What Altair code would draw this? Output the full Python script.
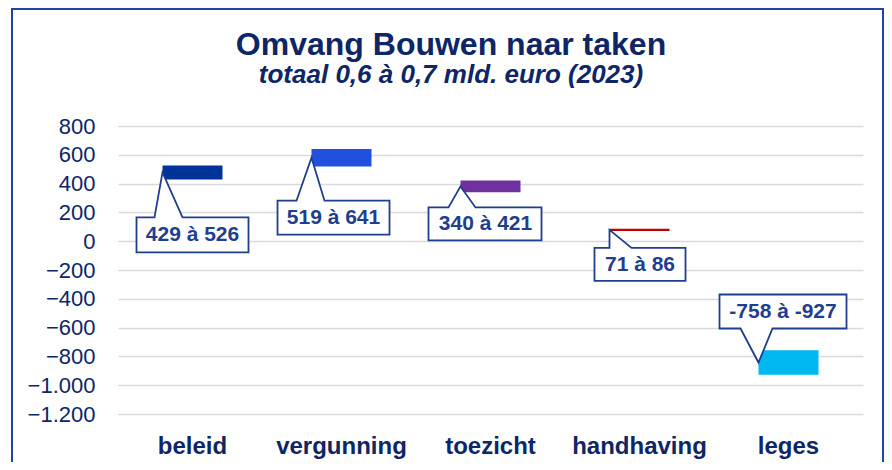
import altair as alt
import pandas as pd

# ---- data ----
tasks = ["beleid", "vergunning", "toezicht", "handhaving", "leges"]
low = [429, 519, 340, 71, -758]
high = [526, 641, 421, 86, -927]
y_ticks = [-1200, -1000, -800, -600, -400, -200, 0, 200, 400, 600, 800]
title_text = "Omvang Bouwen naar taken"
subtitle_text = "totaal 0,6 à 0,7 mld. euro (2023)"

# ---- styles ----
bar_colors = ["#003399", "#2150E0", "#7030A0", "#C00000", "#00B8F0"]
NAVY = "#0E2566"
CALLOUT = "#1F3E8E"
FRAME = "#1F44A3"
GRID = "#D9D9D9"
FONT = "Liberation Sans"
BAR_W = 60

# callout balloon shapes (pixel units relative to the tip at the bar's left edge)
callout_shapes = {
    "beleid": "M0,0L20,45L86,45L86,80L-26,80L-26,45L-8,45Z",
    "vergunning": "M0,0L13,43L78,43L78,77L-34,77L-34,43L-15,43Z",
    "toezicht": "M0,0L15,21L81,21L81,54L-32,54L-32,21L-12,21Z",
    "handhaving": "M0,0L22,18L76,18L76,51L-15,51L-15,18L0,18Z",
    "leges": "M0,0L14,-34L88,-34L88,-68L-39,-68L-39,-34L-18,-34Z",
}
callout_text_offsets = {
    "beleid": (30, 63),
    "vergunning": (22, 60),
    "toezicht": (25, 38),
    "handhaving": (30.5, 35),
    "leges": (24.5, -51),
}

df = pd.DataFrame({"taak": tasks, "laag": low, "hoog": high})
df["label"] = [f"{a} à {b}" for a, b in zip(low, high)]
df["midden"] = (df["laag"] + df["hoog"]) / 2

x_enc = alt.X(
    "taak:N",
    sort=tasks,
    scale=alt.Scale(domain=tasks, paddingInner=0, paddingOuter=0),
    axis=alt.Axis(
        title=None, labelAngle=0, labelFontSize=24, labelFontWeight="bold",
        labelColor=NAVY, labelFont=FONT, domain=False, ticks=False,
        labelPadding=20, grid=False,
    ),
)

y_scale = alt.Scale(domain=[-1200, 800], nice=False, zero=False)
y_axis = alt.Axis(
    values=y_ticks, title=None, labelFontSize=22, labelColor=NAVY, labelFont=FONT,
    domain=False, ticks=False, labelPadding=23, grid=True, gridColor=GRID,
    gridWidth=1.5,
    labelExpr="replace(format(datum.value, ','), ',', '.')",
)


def y_enc(field):
    return alt.Y(field, scale=y_scale, axis=y_axis)


base = alt.Chart(df)

bars = base.mark_bar(width=BAR_W).encode(
    x=x_enc,
    y=y_enc("laag:Q"),
    y2="hoog:Q",
    color=alt.Color("taak:N", scale=alt.Scale(domain=tasks, range=bar_colors), legend=None),
)

layers = [bars]
for t in tasks:
    tx, ty = callout_text_offsets[t]
    pt = base.transform_filter(alt.datum.taak == t).mark_point(
        shape=callout_shapes[t], size=4, filled=True, fill="white", stroke=CALLOUT,
        strokeWidth=1.8, opacity=1, fillOpacity=1, strokeOpacity=1, xOffset=-BAR_W / 2,
    ).encode(x=x_enc, y=y_enc("midden:Q"))
    tt = base.transform_filter(alt.datum.taak == t).mark_text(
        dx=tx - BAR_W / 2, dy=ty, fontSize=21, fontWeight="bold", color=CALLOUT,
        font=FONT, align="center", baseline="middle",
    ).encode(x=x_enc, y=y_enc("midden:Q"), text="label:N")
    layers += [pt, tt]

one = alt.Chart(pd.DataFrame({"k": [0]}))
frame = one.mark_rect(filled=False, stroke=FRAME, strokeWidth=2).encode(
    x=alt.value(-106), x2=alt.value(765), y=alt.value(-117), y2=alt.value(380)
)
title = one.mark_text(
    text=title_text, fontSize=32, fontWeight="bold", color=NAVY, font=FONT,
    align="center", baseline="alphabetic",
).encode(x=alt.value(333), y=alt.value(-71))
subtitle = one.mark_text(
    text=subtitle_text, fontSize=26, fontWeight="bold", fontStyle="italic",
    color=NAVY, font=FONT, align="center", baseline="alphabetic",
).encode(x=alt.value(333), y=alt.value(-43))

chart = alt.layer(frame, *layers, title, subtitle).properties(
    width=745,
    height=288,
    padding={"left": 110, "top": 118, "right": 21, "bottom": 48},
    autosize=alt.AutoSizeParams(type="none"),
    background="white",
).configure_view(strokeWidth=0)

chart.save("out.html", embed_options={"renderer": "svg", "actions": False})
